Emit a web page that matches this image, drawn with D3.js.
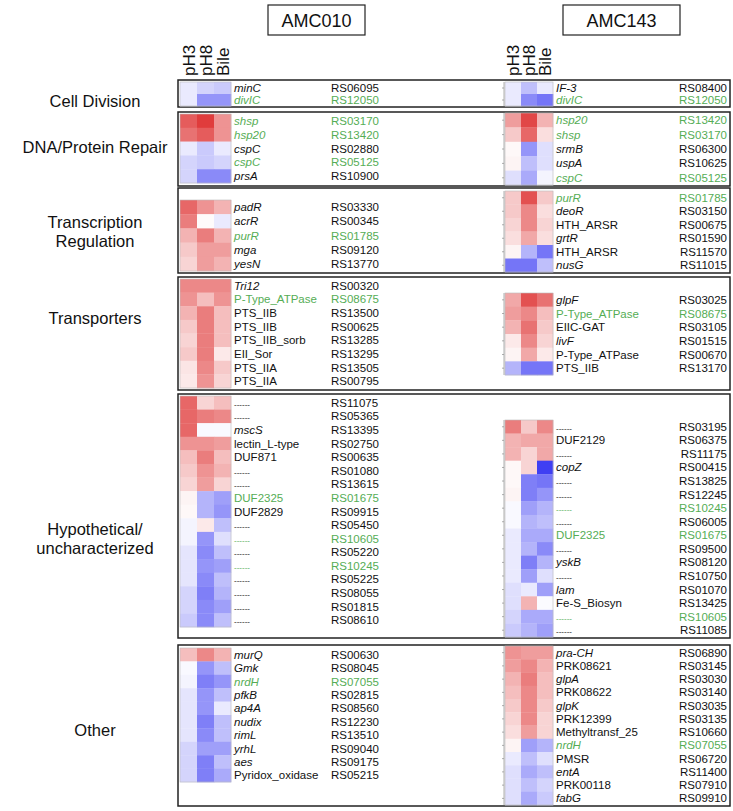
<!DOCTYPE html>
<html><head><meta charset="utf-8">
<script src="https://cdn.jsdelivr.net/npm/d3@7"></script>
<style>body{margin:0;background:#fff;}svg{display:block;font-family:"Liberation Sans",Arial,sans-serif;}</style>
</head><body><svg id="c" width="733" height="811"></svg>
<script>
// ---------- DATA ----------
const conditions = ["pH3", "pH8", "Bile"];
const strains = ["AMC010", "AMC143"];
const categories = ["Cell Division", "DNA/Protein Repair", "Transcription\nRegulation", "Transporters", "Hypothetical/\nuncharacterized", "Other"];

// AMC010
const a010_cell_genes = ["minC", "divIC"];
const a010_cell_ids = ["RS06095", "RS12050"];
const a010_cell_vals = [[-0.1, -0.2, -0.25], [-0.1, -0.5, -0.5]];

const a010_dna_genes = ["shsp", "hsp20", "cspC", "cspC", "prsA"];
const a010_dna_ids = ["RS03170", "RS13420", "RS02880", "RS05125", "RS10900"];
const a010_dna_vals = [[0.75, 0.9, 0.5], [0.65, 0.75, 0.5], [-0.1, -0.25, -0.1], [-0.2, -0.25, -0.2], [-0.2, -0.55, -0.55]];

const a010_tr_genes = ["padR", "acrR", "purR", "mga", "yesN"];
const a010_tr_ids = ["RS03330", "RS00345", "RS01785", "RS09120", "RS13770"];
const a010_tr_vals = [[0.7, 0.5, 0.35], [0.6, 0.02, -0.1], [0.35, 0.6, 0.35], [0.25, 0.45, 0.45], [0.2, 0.45, 0.35]];

const a010_tp_genes = ["Tri12", "P-Type_ATPase", "PTS_IIB", "PTS_IIB", "PTS_IIB_sorb", "EII_Sor", "PTS_IIA", "PTS_IIA"];
const a010_tp_ids = ["RS00320", "RS08675", "RS13500", "RS00625", "RS13285", "RS13295", "RS13505", "RS00795"];
const a010_tp_vals = [[0.55, 0.55, 0.55], [0.5, 0.3, 0.5], [0.35, 0.6, 0.3], [0.25, 0.6, 0.3], [0.2, 0.6, 0.3], [0.25, 0.6, 0.1], [0.12, 0.55, 0.25], [0.1, 0.5, 0.2]];

const a010_hy_genes = ["-----", "-----", "mscS", "lectin_L-type", "DUF871", "-----", "-----", "DUF2325", "DUF2829", "-----", "-----", "-----", "-----", "-----", "-----", "-----", "-----"];
const a010_hy_ids = ["RS11075", "RS05365", "RS13395", "RS02750", "RS00635", "RS01080", "RS13615", "RS01675", "RS09915", "RS05450", "RS10605", "RS05220", "RS10245", "RS05225", "RS08055", "RS01815", "RS08610"];
const a010_hy_vals = [[0.7, 0.2, 0.3], [0.7, 0.6, 0.55], [0.7, -0.03, -0.03], [0.5, 0.5, 0.45], [0.3, 0.6, 0.3], [0.25, 0.5, 0.35], [0.2, 0.45, 0.2], [0.05, -0.35, -0.45], [0.03, -0.35, -0.5], [-0.05, 0.1, -0.3], [-0.05, -0.5, -0.15], [-0.12, -0.55, -0.3], [-0.12, -0.5, -0.45], [-0.12, -0.55, -0.3], [-0.2, -0.6, -0.35], [-0.2, -0.55, -0.45], [-0.25, -0.55, -0.3]];

const a010_ot_genes = ["murQ", "Gmk", "nrdH", "pfkB", "ap4A", "nudix", "rimL", "yrhL", "aes", "Pyridox_oxidase"];
const a010_ot_ids = ["RS00630", "RS08045", "RS07055", "RS02815", "RS08560", "RS12230", "RS13510", "RS09040", "RS09175", "RS05215"];
const a010_ot_vals = [[0.3, 0.55, 0.35], [-0.03, -0.5, -0.3], [-0.05, -0.6, -0.5], [-0.12, -0.5, -0.3], [-0.12, -0.5, -0.1], [-0.12, -0.6, -0.3], [-0.12, -0.55, -0.3], [-0.2, -0.45, -0.45], [-0.2, -0.6, -0.3], [-0.2, -0.6, -0.4]];

// AMC143
const a143_cell_genes = ["IF-3", "divIC"];
const a143_cell_ids = ["RS08400", "RS12050"];
const a143_cell_vals = [[-0.1, -0.3, -0.1], [-0.1, -0.55, -0.65]];

const a143_dna_genes = ["hsp20", "shsp", "srmB", "uspA", "cspC"];
const a143_dna_ids = ["RS13420", "RS03170", "RS06300", "RS10625", "RS05125"];
const a143_dna_vals = [[0.45, 0.85, 0.35], [0.25, 0.7, 0.15], [0.03, -0.5, -0.15], [0.05, -0.3, -0.15], [-0.15, -0.4, -0.05]];

const a143_tr_genes = ["purR", "deoR", "HTH_ARSR", "grtR", "HTH_ARSR", "nusG"];
const a143_tr_ids = ["RS01785", "RS03150", "RS00675", "RS01590", "RS11570", "RS11015"];
const a143_tr_vals = [[0.25, 0.8, 0.25], [0.25, 0.55, 0.15], [0.2, 0.55, 0.2], [0.15, 0.4, 0.15], [0.05, -0.35, -0.65], [-0.65, -0.65, -0.3]];

const a143_tp_genes = ["glpF", "P-Type_ATPase", "EIIC-GAT", "livF", "P-Type_ATPase", "PTS_IIB"];
const a143_tp_ids = ["RS03025", "RS08675", "RS03105", "RS01515", "RS00670", "RS13170"];
const a143_tp_vals = [[0.4, 0.8, 0.65], [0.45, 0.55, 0.3], [0.35, 0.65, 0.25], [0.1, 0.55, 0.2], [0.05, 0.4, 0.1], [-0.35, -0.65, -0.65]];

const a143_hy_genes = ["-----", "DUF2129", "-----", "copZ", "-----", "-----", "-----", "-----", "DUF2325", "-----", "yskB", "-----", "lam", "Fe-S_Biosyn", "-----", "-----"];
const a143_hy_ids = ["RS03195", "RS06375", "RS11175", "RS00415", "RS13825", "RS12245", "RS10245", "RS06005", "RS01675", "RS09500", "RS08120", "RS10750", "RS01070", "RS13425", "RS10605", "RS11085"];
const a143_hy_vals = [[0.6, 0.25, 0.55], [0.35, 0.4, 0.4], [0.35, 0.2, 0.4], [0.03, 0.2, -0.9], [0.03, -0.6, -0.65], [0.05, -0.6, -0.5], [-0.03, -0.45, -0.35], [-0.03, -0.35, -0.3], [-0.1, -0.4, -0.4], [-0.1, -0.35, -0.55], [-0.1, -0.6, -0.35], [-0.1, -0.45, -0.15], [-0.15, -0.1, -0.45], [-0.15, 0.35, -0.02], [-0.2, -0.4, -0.4], [-0.25, -0.35, -0.45]];

const a143_ot_genes = ["pra-CH", "PRK08621", "glpA", "PRK08622", "glpK", "PRK12399", "Methyltransf_25", "nrdH", "PMSR", "entA", "PRK00118", "fabG"];
const a143_ot_ids = ["RS06890", "RS03145", "RS03030", "RS03140", "RS03035", "RS03135", "RS10660", "RS07055", "RS06720", "RS11400", "RS07910", "RS09910"];
const a143_ot_vals = [[0.5, 0.45, 0.45], [0.45, 0.55, 0.35], [0.35, 0.6, 0.3], [0.3, 0.55, 0.3], [0.25, 0.55, 0.25], [0.2, 0.55, 0.2], [0.15, 0.45, 0.2], [0.05, -0.45, -0.35], [-0.1, -0.3, -0.15], [-0.15, -0.4, -0.3], [-0.15, -0.3, -0.2], [-0.15, -0.4, -0.25]];

const green010 = ["RS12050", "RS03170", "RS13420", "RS05125", "RS01785", "RS08675", "RS01675", "RS10605", "RS10245", "RS07055"];
const green143 = ["RS12050", "RS13420", "RS03170", "RS05125", "RS01785", "RS08675", "RS10245", "RS01675", "RS10605", "RS07055"];
const italicGenes = ["minC", "divIC", "shsp", "hsp20", "cspC", "prsA", "padR", "acrR", "purR", "mga", "yesN", "Tri12", "mscS", "murQ", "Gmk", "nrdH", "pfkB", "ap4A", "nudix", "rimL", "yrhL", "aes", "IF-3", "srmB", "uspA", "deoR", "grtR", "nusG", "glpF", "livF", "copZ", "yskB", "lam", "pra-CH", "glpA", "glpK", "entA", "fabG"];

// ---------- LAYOUT ----------
const svg = d3.select("#c");
const color = d3.scaleLinear().domain([-1, 0, 1]).range(["#2a2af2", "#ffffff", "#dc2626"]).interpolate(d3.interpolateRgb).clamp(true);
const GREEN = "#55ad55";

const sections = [
  {cat: 0, box: [80, 107], labelY: [101], L: [a010_cell_genes, a010_cell_ids, a010_cell_vals, 82, 106], R: [a143_cell_genes, a143_cell_ids, a143_cell_vals, 82, 106]},
  {cat: 1, box: [112, 186], labelY: [147], L: [a010_dna_genes, a010_dna_ids, a010_dna_vals, 114, 183], R: [a143_dna_genes, a143_dna_ids, a143_dna_vals, 113, 185]},
  {cat: 2, box: [188, 273], labelY: [222, 241], L: [a010_tr_genes, a010_tr_ids, a010_tr_vals, 200, 271], R: [a143_tr_genes, a143_tr_ids, a143_tr_vals, 191, 272]},
  {cat: 3, box: [277, 390], labelY: [318], L: [a010_tp_genes, a010_tp_ids, a010_tp_vals, 279, 388], R: [a143_tp_genes, a143_tp_ids, a143_tp_vals, 293, 375]},
  {cat: 4, box: [394, 638], labelY: [529, 548], L: [a010_hy_genes, a010_hy_ids, a010_hy_vals, 396, 627], R: [a143_hy_genes, a143_hy_ids, a143_hy_vals, 420, 637]},
  {cat: 5, box: [645, 806], labelY: [730], L: [a010_ot_genes, a010_ot_ids, a010_ot_vals, 648, 782], R: [a143_ot_genes, a143_ot_ids, a143_ot_vals, 646, 805]}
];

const sides = [
  {key: "L", x0: 180, x1: 231, geneX: 234, idX: 331, idAnchor: "start", green: green010, tick: false},
  {key: "R", x0: 505, x1: 553, geneX: 556, idX: 727, idAnchor: "end", green: green143, tick: true}
];

// strain headers
const hdr = [{x: 268, w: 97}, {x: 563, w: 117}];
strains.forEach((s, i) => {
  svg.append("rect").attr("x", hdr[i].x).attr("y", 5).attr("width", hdr[i].w).attr("height", 30)
    .attr("fill", "#fff").attr("stroke", "#222").attr("stroke-width", 1.2);
  svg.append("text").attr("x", hdr[i].x + hdr[i].w / 2).attr("y", 27).attr("text-anchor", "middle")
    .attr("font-size", 18).attr("fill", "#111").text(s);
});

// column labels
sides.forEach(sd => {
  const x = d3.scaleBand().domain(conditions).range([sd.x0, sd.x1]);
  svg.append("g").selectAll("text").data(conditions).join("text")
    .attr("transform", d => `translate(${x(d) + x.bandwidth() / 2 + 6},76) rotate(-90)`)
    .attr("font-size", 17).attr("fill", "#111").text(d => d);
});

sections.forEach(sec => {
  // box
  svg.append("rect").attr("x", 178).attr("y", sec.box[0]).attr("width", 552).attr("height", sec.box[1] - sec.box[0])
    .attr("fill", "none").attr("stroke", "#222").attr("stroke-width", 1.5);
  // category label
  const lines = categories[sec.cat].split("\n");
  lines.forEach((ln, i) => {
    svg.append("text").attr("x", 95).attr("y", sec.labelY[i] + 6).attr("text-anchor", "middle")
      .attr("font-size", 16.5).attr("fill", "#111").text(ln);
  });
  sides.forEach(sd => {
    const [genes, ids, vals, top, bot] = sec[sd.key];
    const x = d3.scaleBand().domain(conditions).range([sd.x0, sd.x1]);
    const y = d3.scaleBand().domain(d3.range(genes.length)).range([top, bot]);
    const g = svg.append("g");
    const cells = [];
    vals.forEach((row, r) => row.forEach((v, c) => cells.push({r, c: conditions[c], v})));
    g.selectAll("rect.cell").data(cells).join("rect").attr("class", "cell")
      .attr("x", d => x(d.c)).attr("y", d => y(d.r))
      .attr("width", x.bandwidth() + 0.3).attr("height", y.bandwidth() + 0.3)
      .attr("fill", d => color(d.v));
    g.append("rect").attr("x", sd.x0).attr("y", top).attr("width", sd.x1 - sd.x0).attr("height", bot - top)
      .attr("fill", "none").attr("stroke", "#bbb").attr("stroke-width", 0.6);
    if (sd.tick) {
      g.append("line").attr("x1", sd.x0 - 1).attr("x2", sd.x0 - 1).attr("y1", top).attr("y2", bot)
        .attr("stroke", "#999").attr("stroke-width", 0.8);
      g.selectAll("line.tk").data(d3.range(genes.length)).join("line").attr("class", "tk")
        .attr("x1", sd.x0 - 3).attr("x2", sd.x0 - 1)
        .attr("y1", d => y(d) + y.bandwidth() / 2).attr("y2", d => y(d) + y.bandwidth() / 2)
        .attr("stroke", "#999").attr("stroke-width", 0.8);
    }
    const rowsData = genes.map((gn, i) => ({gn, id: ids[i], i}));
    g.selectAll("text.gene").data(rowsData).join("text").attr("class", "gene")
      .attr("x", sd.geneX).attr("y", d => y(d.i) + y.bandwidth() / 2 + 4)
      .attr("font-size", d => d.gn === "-----" ? 8 : 11.5)
      .attr("font-style", d => italicGenes.includes(d.gn) ? "italic" : "normal")
      .attr("fill", d => sd.green.includes(d.id) ? GREEN : "#111")
      .text(d => d.gn === "-----" ? "------" : d.gn);
    g.selectAll("text.id").data(rowsData).join("text").attr("class", "id")
      .attr("x", sd.idX).attr("y", d => y(d.i) + y.bandwidth() / 2 + 4)
      .attr("text-anchor", sd.idAnchor).attr("font-size", 11.5)
      .attr("fill", d => sd.green.includes(d.id) ? GREEN : "#111")
      .text(d => d.id);
  });
});
</script></body></html>
